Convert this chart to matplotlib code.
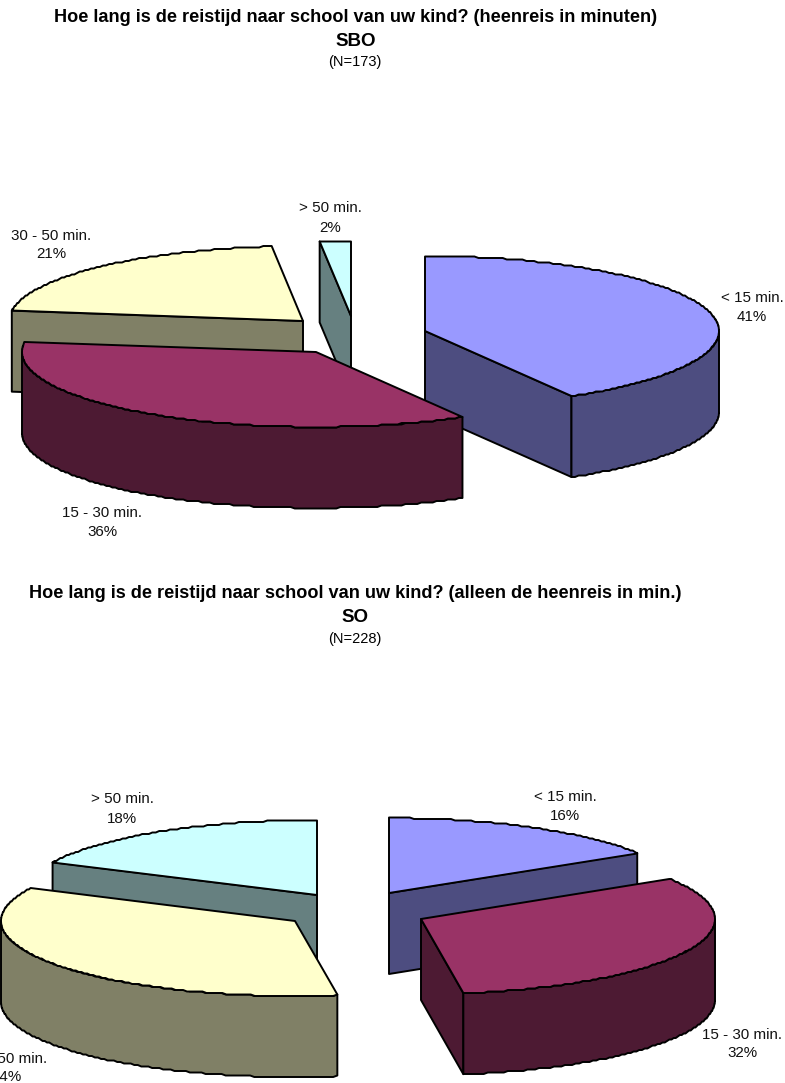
import numpy as np
import matplotlib
matplotlib.use("Agg")
import matplotlib.pyplot as plt
from matplotlib.patches import Polygon

plt.rcParams['font.family'] = ['Liberation Sans', 'DejaVu Sans']

# data, slice shares estimated from the drawn angles, printed labels as shown
categories = ["< 15 min.", "15 - 30 min.", "30 - 50 min.", "> 50 min."]
sbo_values = [41.7, 35.5, 21.1, 1.7]
so_values = [16.0, 31.7, 34.5, 17.8]
sbo_percent = ["41%", "36%", "21%", "2%"]
so_percent = ["16%", "32%", "34%", "18%"]

top_colors = ["#9999FF", "#993366", "#FFFFCC", "#CCFFFF"]
side_colors = ["#4D4D80", "#4D1A33", "#808066", "#668080"]

# layout in pixels
A, B, DEPTH = 294, 75, 81
sbo_apex = [(425, 331), (316, 352), (303, 321), (351, 316)]
so_apex = [(389, 893), (421, 919), (295, 921), (317, 895)]
sbo_order = [3, 2, 0, 1]
so_order = [3, 2, 0, 1]
sbo_labels = [(752, 298, 317), (102, 513, 532), (51, 236, 254), (330, 208, 228)]
so_labels = [(565, 797, 816), (742, 1035, 1053), (7, 1059, 1077), (122, 799, 819)]

fig = plt.figure(figsize=(7.85, 10.83), dpi=100)
ax = fig.add_axes([0, 0, 1, 1])
ax.set_xlim(0, 785)
ax.set_ylim(1083, 0)
ax.axis("off")


def pt(apex, deg):
    # clockwise from north, y goes down on the screen
    t = np.radians(deg)
    return apex[0] + A * np.sin(t), apex[1] - B * np.cos(t)


def arc(apex, d0, d1):
    n = max(int(abs(d1 - d0) / 0.8), 2)
    d = np.linspace(d0, d1, n)
    x, y = pt(apex, d)
    # the original outline is a bit stepped
    return np.column_stack([x, np.round(y / 1.5) * 1.5])


def face(points, color, z):
    ax.add_patch(Polygon(points, closed=True, facecolor=color, edgecolor="black",
                         linewidth=1.4, joinstyle="round", zorder=z))


def draw_pie(values, percent, apexes, order, labels):
    ends = np.cumsum(values) / np.sum(values) * 360
    starts = ends - np.array(values) / np.sum(values) * 360
    z = 1
    for i in order:
        s, e, apex = starts[i], ends[i], apexes[i]
        # cut faces, only those turned towards the viewer
        for deg, seen in ((s, np.sin(np.radians(s)) < -1e-6), (e, np.sin(np.radians(e)) > 1e-6)):
            if seen:
                p = pt(apex, deg)
                face([apex, p, (p[0], p[1] + DEPTH), (apex[0], apex[1] + DEPTH)], side_colors[i], z)
        # outer wall, front half only
        w0, w1 = max(s, 90), min(e, 270)
        if w1 > w0:
            rim = arc(apex, w0, w1)
            low = rim[::-1] + [0, DEPTH]
            face(np.vstack([rim, low]), side_colors[i], z)
        face(np.vstack([[apex], arc(apex, s, e)]), top_colors[i], z + 1)
        z += 2
    for i, (lx, y1, y2) in enumerate(labels):
        ax.text(lx, y1, categories[i], ha="center", va="center", fontsize=10.9, color="#111111", zorder=50)
        ax.text(lx, y2, percent[i], ha="center", va="center", fontsize=10.9, color="#111111", zorder=50)


draw_pie(sbo_values, sbo_percent, sbo_apex, sbo_order, sbo_labels)
draw_pie(so_values, so_percent, so_apex, so_order, so_labels)

# titles
ax.text(355.5, 17, "Hoe lang is de reistijd naar school van uw kind? (heenreis in minuten)",
        ha="center", va="center", fontsize=13.1, fontweight="bold")
ax.text(356, 41, "SBO", ha="center", va="center", fontsize=13.5, fontweight="bold")
ax.text(355, 62, "(N=173)", ha="center", va="center", fontsize=10.5)
ax.text(355, 594, "Hoe lang is de reistijd naar school van uw kind? (alleen de heenreis in min.)",
        ha="center", va="center", fontsize=13.1, fontweight="bold")
ax.text(355, 618, "SO", ha="center", va="center", fontsize=13.5, fontweight="bold")
ax.text(355, 639, "(N=228)", ha="center", va="center", fontsize=10.5)

fig.savefig("out.png", dpi=100)
